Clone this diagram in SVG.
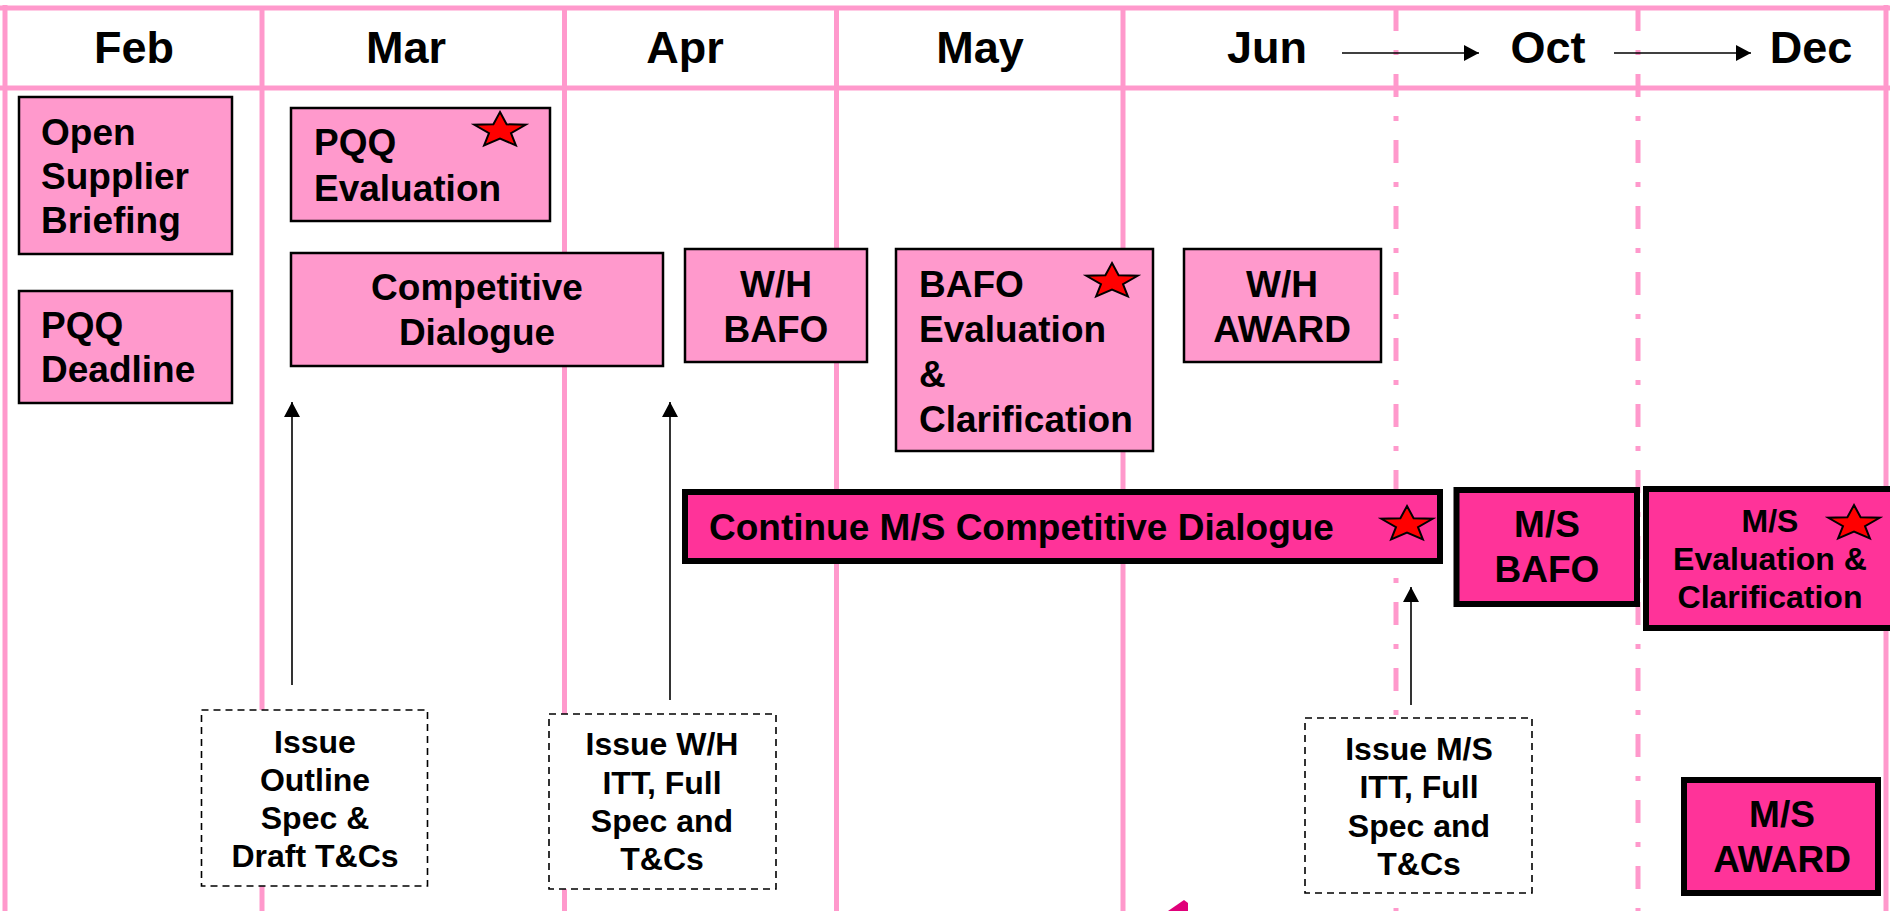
<svg xmlns="http://www.w3.org/2000/svg" width="1890" height="911" viewBox="0 0 1890 911">
<defs>
<style>
text{font-family:"Liberation Sans",Arial,sans-serif;font-weight:bold;fill:#000}
.hdr{font-size:45px;text-anchor:middle}
.t36{font-size:37px}
.t32{font-size:32px}
.mid{text-anchor:middle}
.grid{stroke:#ff99cc;stroke-width:5;fill:none}
.dd{stroke:#ff99cc;stroke-width:5;fill:none;stroke-dasharray:23 19 5 19}
.lt{fill:#ff99cc;stroke:#000;stroke-width:2.5}
.mg{fill:#ff3399;stroke:#000;stroke-width:6}
.note{fill:#fff;stroke:#000;stroke-width:1.6;stroke-dasharray:7 5}
.arr{stroke:#000;stroke-width:1.6;fill:none}
</style>
<polygon id="star" fill="#ff0000" stroke="#000" stroke-width="2" stroke-linejoin="miter" points="0,-18.5 6.6,-6.2 25.68,-5.72 11,2.6 15.88,14.97 0,8 -15.88,14.97 -11,2.6 -25.68,-5.72 -6.6,-6.2"/>
<marker id="ah" markerWidth="15" markerHeight="16" refX="15" refY="8" orient="auto" markerUnits="userSpaceOnUse">
<path d="M0,0 L15,8 L0,16 Z" fill="#000"/>
</marker>
</defs>
<rect x="0" y="0" width="1890" height="911" fill="#fff"/>
<g id="grid">
<line class="grid" x1="0" y1="8" x2="1890" y2="8"/>
<line class="grid" x1="0" y1="88" x2="1890" y2="88"/>
<line class="grid" x1="5" y1="5" x2="5" y2="911"/>
<line class="grid" x1="262" y1="8" x2="262" y2="911"/>
<line class="grid" x1="564.5" y1="8" x2="564.5" y2="911"/>
<line class="grid" x1="836.5" y1="8" x2="836.5" y2="911"/>
<line class="grid" x1="1123" y1="8" x2="1123" y2="911"/>
<line class="dd" x1="1396" y1="8" x2="1396" y2="911"/>
<line class="dd" x1="1638" y1="8" x2="1638" y2="911"/>
<line class="grid" x1="1886" y1="5" x2="1886" y2="911"/>
</g>
<g id="header">
<text class="hdr" x="134" y="63">Feb</text>
<text class="hdr" x="406" y="63">Mar</text>
<text class="hdr" x="685" y="63">Apr</text>
<text class="hdr" x="980" y="63">May</text>
<text class="hdr" x="1267" y="63">Jun</text>
<text class="hdr" x="1548" y="63">Oct</text>
<text class="hdr" x="1811" y="63">Dec</text>
</g>
<g id="open-supplier-briefing">
<rect class="lt" x="19" y="97" width="213" height="157"/>
<text class="t36" x="41" y="145">Open</text>
<text class="t36" x="41" y="189">Supplier</text>
<text class="t36" x="41" y="233">Briefing</text>
</g>
<g id="pqq-deadline">
<rect class="lt" x="19" y="291" width="213" height="112"/>
<text class="t36" x="41" y="338">PQQ</text>
<text class="t36" x="41" y="382">Deadline</text>
</g>
<g id="pqq-evaluation">
<rect class="lt" x="291" y="108" width="259" height="113"/>
<text class="t36" x="314" y="155">PQQ</text>
<text class="t36" x="314" y="201">Evaluation</text>
<use href="#star" x="500" y="130.5"/>
</g>
<g id="competitive-dialogue">
<rect class="lt" x="291" y="253" width="372" height="113"/>
<text class="t36 mid" x="477" y="300">Competitive</text>
<text class="t36 mid" x="477" y="345">Dialogue</text>
</g>
<g id="wh-bafo">
<rect class="lt" x="685" y="249" width="182" height="113"/>
<text class="t36 mid" x="776" y="297">W/H</text>
<text class="t36 mid" x="776" y="342">BAFO</text>
</g>
<g id="bafo-evaluation">
<rect class="lt" x="896" y="249" width="257" height="202"/>
<text class="t36" x="919" y="297">BAFO</text>
<text class="t36" x="919" y="342">Evaluation</text>
<text class="t36" x="919" y="387">&amp;</text>
<text class="t36" x="919" y="432">Clarification</text>
<use href="#star" x="1112" y="281.5"/>
</g>
<g id="wh-award">
<rect class="lt" x="1184" y="249" width="197" height="113"/>
<text class="t36 mid" x="1282" y="297">W/H</text>
<text class="t36 mid" x="1282" y="342">AWARD</text>
</g>
<g id="continue-ms-dialogue">
<rect class="mg" x="685" y="492" width="755" height="69"/>
<text class="t36" x="709" y="540">Continue M/S Competitive Dialogue</text>
<use href="#star" x="1407" y="524.5"/>
</g>
<g id="ms-bafo">
<rect class="mg" x="1456.5" y="490" width="180.5" height="114"/>
<text class="t36 mid" x="1547" y="537">M/S</text>
<text class="t36 mid" x="1547" y="582">BAFO</text>
</g>
<g id="ms-evaluation">
<rect class="mg" x="1646" y="489" width="260" height="139"/>
<text class="t32 mid" x="1770" y="532">M/S</text>
<text class="t32 mid" x="1770" y="570">Evaluation &amp;</text>
<text class="t32 mid" x="1770" y="608">Clarification</text>
<use href="#star" x="1854" y="523.5"/>
</g>
<g id="ms-award">
<rect class="mg" x="1684" y="780" width="194" height="113"/>
<text class="t36 mid" x="1782" y="827">M/S</text>
<text class="t36 mid" x="1782" y="872">AWARD</text>
</g>
<g id="issue-outline-spec">
<rect class="note" x="201.5" y="710" width="226" height="176"/>
<text class="t32 mid" x="315" y="753">Issue</text>
<text class="t32 mid" x="315" y="791">Outline</text>
<text class="t32 mid" x="315" y="829">Spec &amp;</text>
<text class="t32 mid" x="315" y="867">Draft T&amp;Cs</text>
</g>
<g id="issue-wh-itt">
<rect class="note" x="549" y="714" width="227" height="175"/>
<text class="t32 mid" x="662" y="755">Issue W/H</text>
<text class="t32 mid" x="662" y="794">ITT, Full</text>
<text class="t32 mid" x="662" y="832">Spec and</text>
<text class="t32 mid" x="662" y="870">T&amp;Cs</text>
</g>
<g id="issue-ms-itt">
<rect class="note" x="1305" y="718" width="227" height="175"/>
<text class="t32 mid" x="1419" y="760">Issue M/S</text>
<text class="t32 mid" x="1419" y="798">ITT, Full</text>
<text class="t32 mid" x="1419" y="837">Spec and</text>
<text class="t32 mid" x="1419" y="875">T&amp;Cs</text>
</g>
<g id="connectors">
<line class="arr" x1="1342" y1="53" x2="1479" y2="53" marker-end="url(#ah)"/>
<line class="arr" x1="1614" y1="53" x2="1751" y2="53" marker-end="url(#ah)"/>
<line class="arr" x1="292" y1="685" x2="292" y2="402" marker-end="url(#ah)"/>
<line class="arr" x1="670" y1="700" x2="670" y2="402" marker-end="url(#ah)"/>
<line class="arr" x1="1411" y1="705" x2="1411" y2="587" marker-end="url(#ah)"/>
</g>
<polygon points="1168,911 1184,900 1188,903 1188,911" fill="#e0007a"/>
</svg>
